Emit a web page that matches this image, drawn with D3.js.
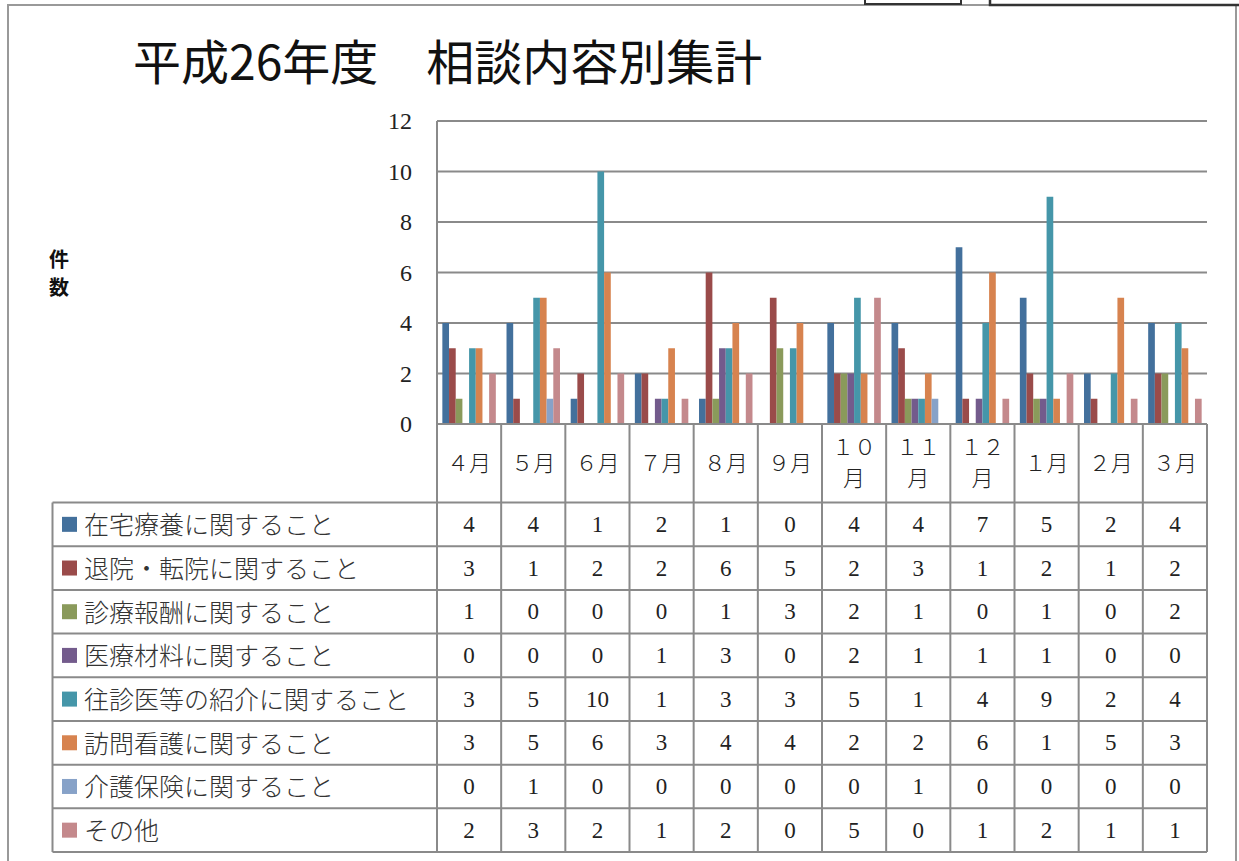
<!DOCTYPE html>
<html>
<head>
<meta charset="utf-8">
<script src="https://cdn.jsdelivr.net/npm/d3@7"></script>
<style>
  body { margin: 0; background: #fff; }
  svg { display: block; }
</style>
</head>
<body>
<div id="chart"></div>
<script>
const months = ['４月', '５月', '６月', '７月', '８月', '９月', '１０月', '１１月', '１２月', '１月', '２月', '３月'];
const seriesNames = [
  '在宅療養に関すること', '退院・転院に関すること', '診療報酬に関すること', '医療材料に関すること',
  '往診医等の紹介に関すること', '訪問看護に関すること', '介護保険に関すること', 'その他'
];
const zaitaku = [4, 4, 1, 2, 1, 0, 4, 4, 7, 5, 2, 4];
const taiin = [3, 1, 2, 2, 6, 5, 2, 3, 1, 2, 1, 2];
const shinryo = [1, 0, 0, 0, 1, 3, 2, 1, 0, 1, 0, 2];
const iryozai = [0, 0, 0, 1, 3, 0, 2, 1, 1, 1, 0, 0];
const oushin = [3, 5, 10, 1, 3, 3, 5, 1, 4, 9, 2, 4];
const houmon = [3, 5, 6, 3, 4, 4, 2, 2, 6, 1, 5, 3];
const kaigo = [0, 1, 0, 0, 0, 0, 0, 1, 0, 0, 0, 0];
const sonota = [2, 3, 2, 1, 2, 0, 5, 0, 1, 2, 1, 1];
const seriesValues = [zaitaku, taiin, shinryo, iryozai, oushin, houmon, kaigo, sonota];
const yTicks = [0, 2, 4, 6, 8, 10, 12];
const colors = ['#43709c', '#9a4b4a', '#8a9a5b', '#735b8c', '#4596a9', '#d7834f', '#87a2c8', '#c4898c'];

const W = 1239, H = 861;
const plotLeft = 437, plotRight = 1207, plotTop = 121, plotBottom = 424;
const headerBottom = 502.5, tableBottom = 852, tableLeft = 52.5;
const rowH = (tableBottom - headerBottom) / seriesNames.length;
const lineColor = '#8a8a8a';
const serif = '"Liberation Serif", "DejaVu Serif", "Noto Sans CJK JP", serif';
const jp = '"Noto Sans CJK JP", sans-serif';

const svg = d3.select('#chart').append('svg')
  .attr('width', W)
  .attr('height', H);

svg.append('rect').attr('width', W).attr('height', H).attr('fill', '#fff');

// page frame, then the little boxes above it
svg.append('path')
  .attr('d', `M8,${H} V5 H1236 V${H}`)
  .attr('fill', 'none').attr('stroke', '#999').attr('stroke-width', 2);
svg.append('path')
  .attr('d', 'M865,0 V4 H961 V0')
  .attr('fill', 'none').attr('stroke', '#333').attr('stroke-width', 2);
svg.append('path')
  .attr('d', 'M990,0 V5 H1239')
  .attr('fill', 'none').attr('stroke', '#333').attr('stroke-width', 2.5);

// title
svg.append('text')
  .attr('x', 133).attr('y', 59)
  .attr('dominant-baseline', 'central')
  .style('font-family', jp)
  .style('font-size', '48px')
  .attr('fill', '#111')
  .text('平成26年度　相談内容別集計');

// y axis label (vertical)
svg.selectAll('.ylab')
  .data(['件', '数'])
  .enter()
  .append('text')
  .attr('x', 59)
  .attr('y', (d, i) => 258 + i * 28)
  .attr('text-anchor', 'middle')
  .attr('dominant-baseline', 'central')
  .style('font-family', jp)
  .style('font-size', '20px')
  .style('font-weight', 'bold')
  .attr('fill', '#111')
  .text(d => d);

const y = d3.scaleLinear().domain([0, 12]).range([plotBottom, plotTop]);
const x0 = d3.scaleBand().domain(months).range([plotLeft, plotRight]);
const pad = x0.bandwidth() / 12;
const x1 = d3.scaleBand().domain(d3.range(seriesNames.length)).range([pad, x0.bandwidth() - pad]);

// gridlines
svg.selectAll('.grid')
  .data(yTicks)
  .enter()
  .append('line')
  .attr('x1', plotLeft).attr('x2', plotRight)
  .attr('y1', d => y(d)).attr('y2', d => y(d))
  .attr('stroke', lineColor).attr('stroke-width', 2);

// tick labels
svg.selectAll('.ytick')
  .data(yTicks)
  .enter()
  .append('text')
  .attr('x', 412)
  .attr('y', d => y(d))
  .attr('text-anchor', 'end')
  .attr('dominant-baseline', 'central')
  .style('font-family', serif)
  .style('font-size', '24px')
  .attr('fill', '#222')
  .text(d => d);

// bars
const flat = [];
seriesValues.forEach((vals, s) => vals.forEach((v, m) => flat.push({ s, m, v })));
svg.selectAll('.bar')
  .data(flat.filter(d => d.v > 0))
  .enter()
  .append('rect')
  .attr('x', d => x0(months[d.m]) + x1(d.s))
  .attr('y', d => y(d.v))
  .attr('width', x1.bandwidth())
  .attr('height', d => y(0) - y(d.v))
  .attr('fill', d => colors[d.s]);

// baseline
svg.append('line')
  .attr('x1', plotLeft).attr('x2', plotRight)
  .attr('y1', plotBottom).attr('y2', plotBottom)
  .attr('stroke', lineColor).attr('stroke-width', 2);

// data table lines
const rowLines = d3.range(seriesNames.length + 1).map(i => headerBottom + i * rowH);
svg.selectAll('.hline')
  .data(rowLines)
  .enter()
  .append('line')
  .attr('x1', tableLeft).attr('x2', plotRight)
  .attr('y1', d => d).attr('y2', d => d)
  .attr('stroke', lineColor).attr('stroke-width', 2);

svg.append('line')
  .attr('x1', plotLeft).attr('x2', plotLeft)
  .attr('y1', plotTop).attr('y2', tableBottom)
  .attr('stroke', lineColor).attr('stroke-width', 2);
svg.append('line')
  .attr('x1', tableLeft).attr('x2', tableLeft)
  .attr('y1', headerBottom).attr('y2', tableBottom)
  .attr('stroke', lineColor).attr('stroke-width', 2);
svg.selectAll('.vline')
  .data(months)
  .enter()
  .append('line')
  .attr('x1', d => x0(d) + x0.bandwidth()).attr('x2', d => x0(d) + x0.bandwidth())
  .attr('y1', plotBottom).attr('y2', tableBottom)
  .attr('stroke', lineColor).attr('stroke-width', 2);

// header month labels (two lines when too wide)
months.forEach(m => {
  const cx = x0(m) + x0.bandwidth() / 2;
  const lines = m.length > 2 ? [m.slice(0, 2), m.slice(2)] : [m];
  const t = svg.append('text')
    .attr('text-anchor', 'middle')
    .style('font-family', serif)
    .style('font-size', '22px')
    .style('font-weight', '300')
    .attr('fill', '#222');
  lines.forEach((ln, i) => {
    const cy = lines.length === 1 ? 463 : 447 + i * 31;
    t.append('tspan').attr('x', cx).attr('y', cy).attr('dominant-baseline', 'central').text(ln);
  });
});

// legend column
seriesNames.forEach((name, s) => {
  const cy = headerBottom + s * rowH + rowH / 2;
  svg.append('rect')
    .attr('x', 62).attr('y', cy - 7.5)
    .attr('width', 15).attr('height', 15)
    .attr('fill', colors[s]);
  svg.append('text')
    .attr('x', 84).attr('y', cy - 1)
    .attr('dominant-baseline', 'central')
    .style('font-family', jp)
    .style('font-size', '25px')
    .style('font-weight', '300')
    .attr('fill', '#333')
    .text(name);
});

// values
svg.selectAll('.val')
  .data(flat)
  .enter()
  .append('text')
  .attr('x', d => x0(months[d.m]) + x0.bandwidth() / 2)
  .attr('y', d => headerBottom + d.s * rowH + rowH / 2)
  .attr('text-anchor', 'middle')
  .attr('dominant-baseline', 'central')
  .style('font-family', serif)
  .style('font-size', '23px')
  .attr('fill', '#222')
  .text(d => d.v);
</script>
</body>
</html>
